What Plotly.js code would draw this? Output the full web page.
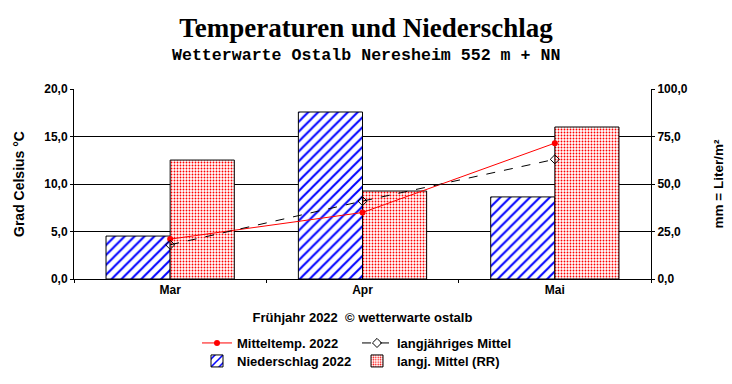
<!DOCTYPE html>
<html>
<head>
<meta charset="utf-8">
<script src="https://cdn.plot.ly/plotly-3.0.1.min.js"></script>
<style>body{margin:0;background:#fff;} #chart{width:732px;height:384px;}</style>
</head>
<body>
<div id="chart"></div>
<script>
const months = ["Mar", "Apr", "Mai"];
const tempMean2022 = [4.2, 7.0, 14.3];
const tempLongTerm = [3.6, 8.2, 12.6];
const precip2022 = [22.6, 87.9, 43.2];
const precipLongTerm = [62.6, 46.3, 80.0];

const fam = "Liberation Sans, Arial, sans-serif";
const fontBold = {family: fam, size: 12, color: "#000", weight: "bold"};
const fontBold13 = {family: fam, size: 13, color: "#000", weight: "bold"};

const traces = [
  {
    type: "bar", x: months, y: precip2022, name: "Niederschlag 2022",
    yaxis: "y", legend: "legend3",
    marker: {color: "#fff", line: {color: "#000", width: 1},
      pattern: {shape: "/", fgcolor: "#0000ff", bgcolor: "#fff", size: 7, solidity: 0.28}}
  },
  {
    type: "bar", x: months, y: precipLongTerm, name: "langj. Mittel (RR)",
    yaxis: "y", legend: "legend4",
    marker: {color: "#fff", line: {color: "#000", width: 1},
      pattern: {shape: ".", fgcolor: "#ff0000", bgcolor: "#fff", size: 3, solidity: 0.3}}
  },
  {
    type: "scatter", mode: "lines+markers", x: months, y: tempMean2022, name: "Mitteltemp. 2022",
    yaxis: "y2", legend: "legend",
    line: {color: "#ff0000", width: 1},
    marker: {symbol: "circle", size: 6, color: "#ff0000"}
  },
  {
    type: "scatter", mode: "lines+markers", x: months, y: tempLongTerm, name: "langjähriges Mittel",
    yaxis: "y2", legend: "legend2",
    line: {color: "#000", width: 1, dash: "dash"},
    marker: {symbol: "diamond-open", size: 7, color: "#000", line: {width: 1}}
  }
];

function leg(px, py) {
  return {
    orientation: "h", xref: "container", yref: "container",
    x: px / 732, y: 1 - py / 384, xanchor: "left", yanchor: "middle",
    font: fontBold13, bgcolor: "rgba(0,0,0,0)"
  };
}

const layout = {
  width: 732, height: 384,
  paper_bgcolor: "#fff", plot_bgcolor: "#fff",
  margin: {l: 74, r: 81, t: 89, b: 105},
  separators: ",.",
  barmode: "group", bargap: 0.333, bargroupgap: 0,
  font: fontBold,
  title: {
    text: "Temperaturen und Niederschlag",
    font: {family: "Liberation Serif, Times New Roman, serif", size: 27, color: "#000", weight: "bold"},
    x: 0.5, xanchor: "center", y: 1 - 28/384, yanchor: "middle"
  },
  annotations: [{
    text: "Wetterwarte Ostalb Neresheim 552 m + NN",
    xref: "paper", yref: "paper", x: (366 - 74) / 577, y: (279 - 56) / 190,
    xanchor: "center", yanchor: "middle", showarrow: false,
    font: {family: "Liberation Mono, Courier New, monospace", size: 16.6, color: "#000", weight: "bold"}
  }],
  xaxis: {
    type: "category", range: [-0.5, 2.5],
    showline: true, linecolor: "#000", linewidth: 1,
    ticks: "outside", tickson: "boundaries", ticklen: 3, tickcolor: "#000",
    showgrid: false, zeroline: false,
    tickfont: fontBold,
    title: {text: "Frühjahr 2022 \u00a0© wetterwarte ostalb", font: fontBold13, standoff: 16}
  },
  yaxis: {
    side: "right", range: [0, 100], dtick: 25, tickformat: ".1f",
    showline: true, linecolor: "#000", linewidth: 1,
    ticks: "outside", ticklen: 3, tickcolor: "#000",
    showgrid: true, gridcolor: "#000", gridwidth: 1, zeroline: false,
    tickfont: fontBold,
    title: {text: "mm = Liter/m²", font: {family: fam, size: 13.5, color: "#000", weight: "bold"}, standoff: 26}
  },
  yaxis2: {
    overlaying: "y", side: "left", range: [0, 20], dtick: 5, tickformat: ".1f",
    showline: true, linecolor: "#000", linewidth: 1,
    ticks: "outside", ticklen: 3, tickcolor: "#000",
    showgrid: false, zeroline: false,
    tickfont: fontBold,
    title: {text: "Grad Celsius °C", font: {family: fam, size: 14, color: "#000", weight: "bold"}, standoff: 16}
  },
  legend: leg(197, 343),
  legend2: leg(357, 343),
  legend3: leg(197, 361),
  legend4: leg(357, 361),
  showlegend: true
};

Plotly.newPlot("chart", traces, layout, {staticPlot: true, displayModeBar: false});
</script>
</body>
</html>
